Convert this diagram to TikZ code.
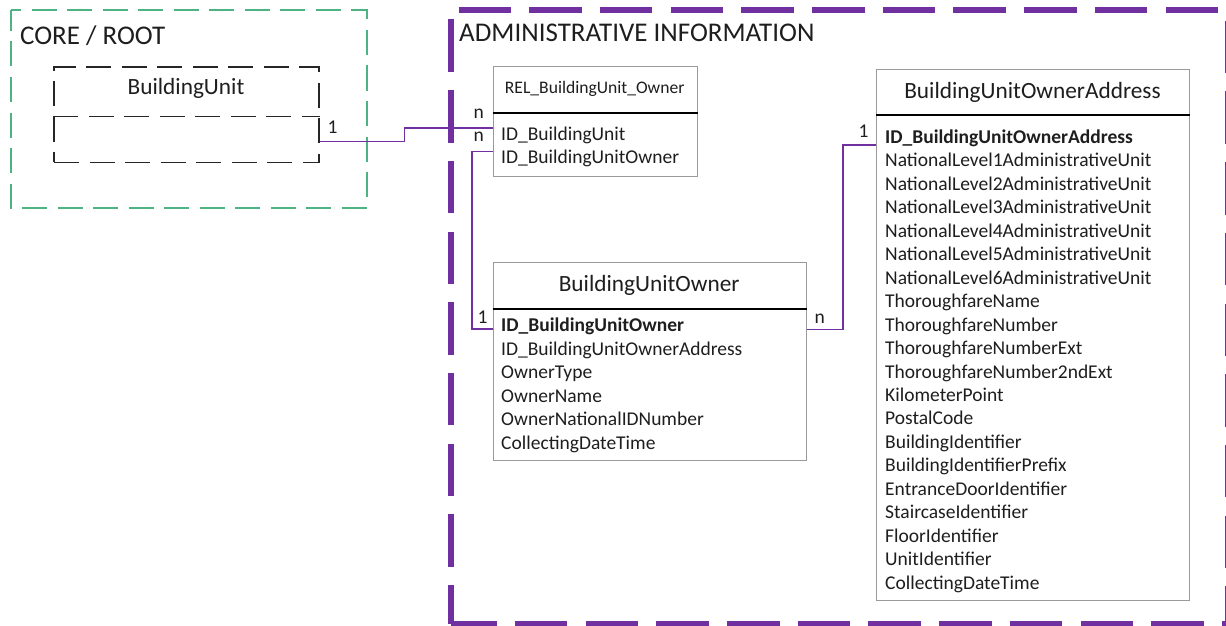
\documentclass[tikz,border=0pt]{standalone}
\usepackage{fontspec}
\setmainfont{Carlito}
\usetikzlibrary{calc}
\definecolor{adminpurple}{HTML}{7030A0}
\definecolor{coregreen}{HTML}{4DB383}
\definecolor{boxgray}{HTML}{9A9A9A}
\definecolor{inkgray}{HTML}{1E1E1E}

\begin{document}
\begin{tikzpicture}[x=1pt,y=-1pt,
  every node/.style={text=inkgray},
  tbl/.style={draw=boxgray, line width=0.9pt, fill=white, inner sep=0pt, anchor=north west},
  hdrline/.style={draw=black, line width=1.8pt},
  conn/.style={draw=adminpurple, line width=1.8pt},
  coredash/.style={dash pattern=on 25pt off 10.5pt},
  admindash/.style={dash pattern=on 52.5pt off 18.2pt},
  row/.style={anchor=base west, inner sep=0pt, font=\fontsize{19.5}{23}\selectfont},
  card/.style={anchor=base west, inner sep=0pt, font=\fontsize{19.5}{23}\selectfont},
  ttl/.style={anchor=base, inner sep=0pt, font=\fontsize{23.3}{27}\selectfont},
  area/.style={anchor=base west, inner sep=0pt, font=\fontsize{27}{32}\selectfont},
]
\useasboundingbox (0,0) rectangle (1226,626);

% ---- group frames ----
\draw[coregreen, line width=2pt, coredash, dash phase=4pt]
  (10.7,10) rectangle (366.7,207.5);
\begin{scope}[adminpurple, line width=6pt, admindash]
  \draw[dash phase=62.9pt] (450.7,10) -- (1230,10);
  \draw[dash phase=61.3pt] (450.7,10) -- (450.7,624);
  \draw[dash phase=6.5pt]  (450.7,624) -- (1230,624);
  \draw[dash phase=60pt]   (1227.5,10) -- (1227.5,624);
\end{scope}
\node[area] (coretitle) at (20,45) {CORE / ROOT};
\node[area] (admintitle) at (459,42) {ADMINISTRATIVE INFORMATION};

% ---- BuildingUnit (core entity, dashed) ----
\node[draw=black!85, line width=1.8pt, coredash, inner sep=0pt,
      anchor=north west, minimum width=265pt, minimum height=95pt] (bu) at (53.3,66.5) {};
\draw[black!85, line width=1.8pt, coredash]
  ($(bu.north west)+(0,50)$) -- ($(bu.north east)+(0,50)$);
\node[ttl] (butitle) at (186,95) {BuildingUnit};

% ---- REL_BuildingUnit_Owner ----
\node[tbl, minimum width=204pt, minimum height=110pt] (rel) at (492.7,66) {};
\draw[hdrline] ($(rel.north west)+(0,47.3)$) -- ($(rel.north east)+(0,47.3)$);
\node[anchor=base, inner sep=0pt, font=\fontsize{17.6}{21}\selectfont] (reltitle) at (594.7,93.3) {REL\_BuildingUnit\_Owner};
\node[row] (rel-r0) at (501,140) {ID\_BuildingUnit};
\node[row] (rel-r1) at (501,163.4) {ID\_BuildingUnitOwner};

% ---- BuildingUnitOwner ----
\node[tbl, minimum width=313pt, minimum height=198.3pt] (buo) at (492.7,261.7) {};
\draw[hdrline] ($(buo.north west)+(0,47.3)$) -- ($(buo.north east)+(0,47.3)$);
\node[ttl] (buotitle) at (649.2,291.7) {BuildingUnitOwner};
\node[row, font=\fontsize{19.5}{23}\selectfont\bfseries] (buo-r0) at (501,331.7) {ID\_BuildingUnitOwner};
\foreach \txt [count=\i] in {ID\_BuildingUnitOwnerAddress, OwnerType, OwnerName,
    OwnerNationalIDNumber, CollectingDateTime}
  \node[row] (buo-r\i) at (501,331.7+23.5*\i) {\txt};

% ---- BuildingUnitOwnerAddress ----
\node[tbl, minimum width=313pt, minimum height=531pt] (buoa) at (876,69) {};
\draw[hdrline] ($(buoa.north west)+(0,46)$) -- ($(buoa.north east)+(0,46)$);
\node[ttl] (buoatitle) at (1032.5,98.3) {BuildingUnitOwnerAddress};
\node[row, font=\fontsize{19.5}{23}\selectfont\bfseries] (buoa-r0) at (885,143.3) {ID\_BuildingUnitOwnerAddress};
\foreach \txt [count=\i] in {NationalLevel1AdministrativeUnit, NationalLevel2AdministrativeUnit,
    NationalLevel3AdministrativeUnit, NationalLevel4AdministrativeUnit,
    NationalLevel5AdministrativeUnit, NationalLevel6AdministrativeUnit,
    ThoroughfareName, ThoroughfareNumber, ThoroughfareNumberExt,
    ThoroughfareNumber2ndExt, KilometerPoint, PostalCode, BuildingIdentifier,
    BuildingIdentifierPrefix, EntranceDoorIdentifier, StaircaseIdentifier,
    FloorIdentifier, UnitIdentifier, CollectingDateTime}
  \node[row] (buoa-r\i) at (885,143.3+23.47*\i) {\txt};

% ---- relationships ----
\draw[conn] ([yshift=-26.5pt]bu.east) -- ++(84.4,0) |- ([yshift=-6.3pt]rel.west);
\draw[conn] ([yshift=-30pt]rel.west) -- ++(-20.4,0) |- ([yshift=32.5pt]buo.west);
\draw[conn] ([yshift=31.8pt]buo.east) -- ++(36,0) |- ([yshift=190.2pt]buoa.west);

% ---- cardinalities ----
\node[card] (c-bu)    at (327.5,133.3) {1};
\node[card] (c-rel1)  at (473.5,118.3) {n};
\node[card] (c-rel2)  at (473.5,141.7) {n};
\node[card] (c-buo1)  at (477.5,323.3) {1};
\node[card] (c-buo2)  at (814.5,323.3) {n};
\node[card] (c-buoa)  at (858.5,137.3) {1};
\end{tikzpicture}
\end{document}
